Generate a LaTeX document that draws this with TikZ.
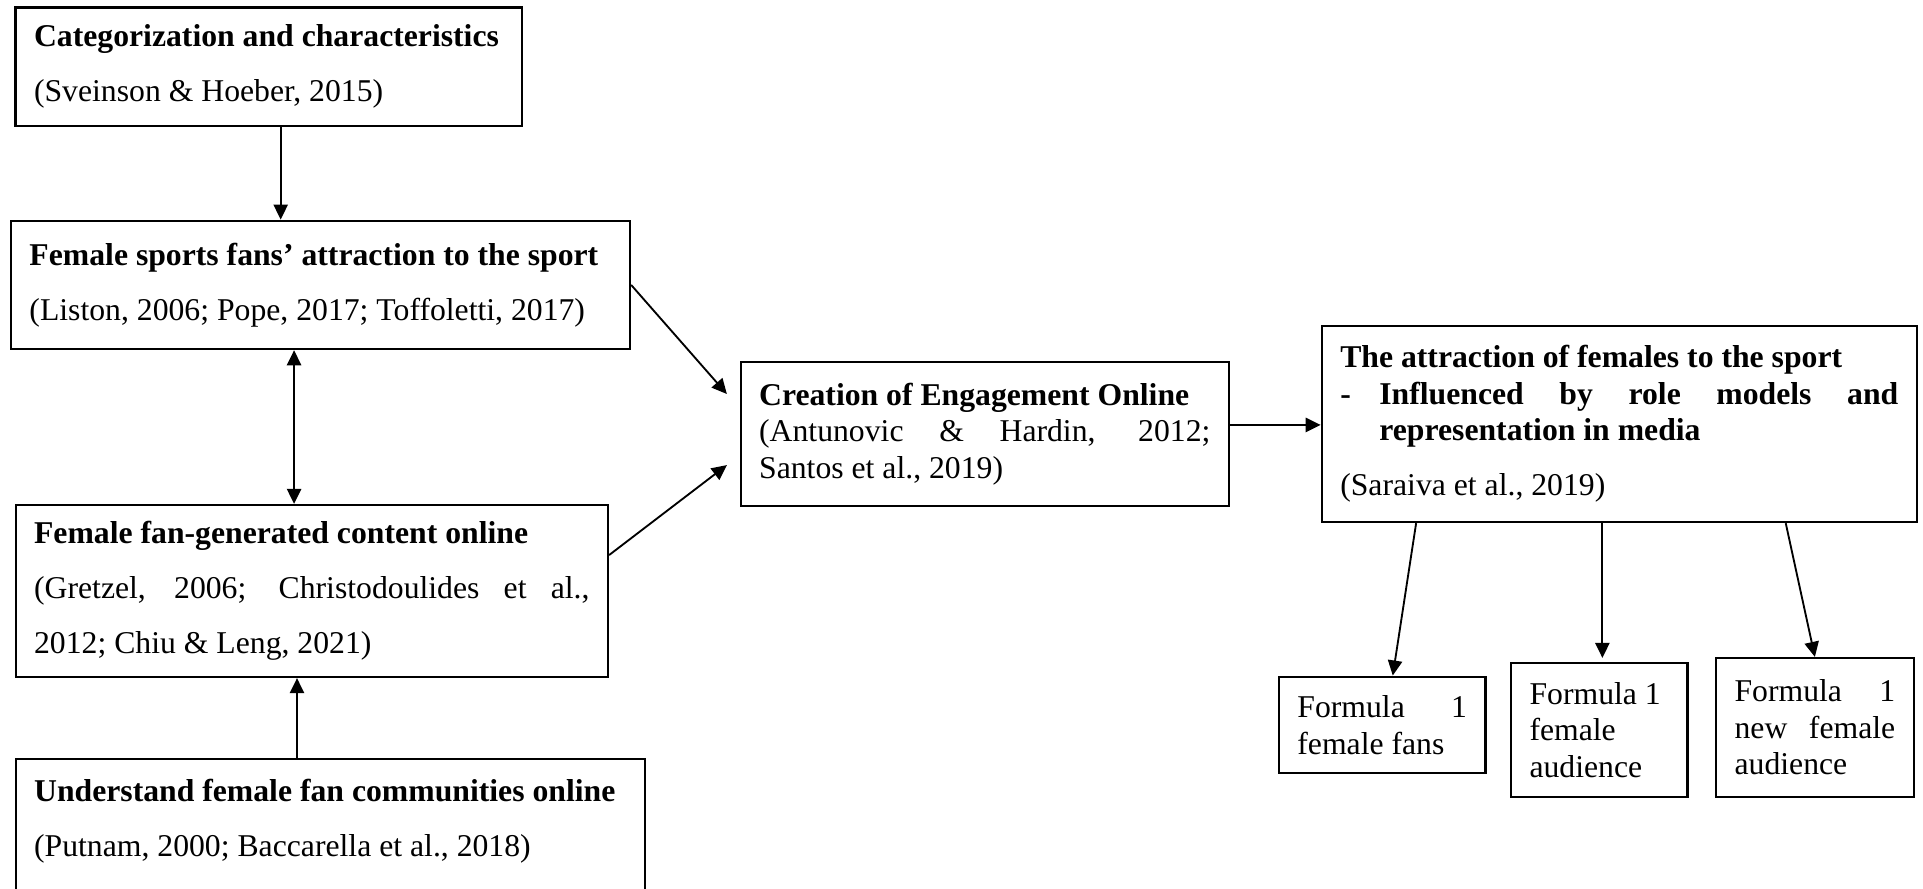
\documentclass[tikz,border=0pt]{standalone}
\usepackage{fontspec}
\setmainfont{Liberation Serif}
\usetikzlibrary{arrows.meta}
% justified line of a given width
\newcommand{\spreadline}[2]{{\spaceskip=0pt\xspaceskip=0pt\makebox[#1][s]{#2}}}
\begin{document}
\begin{tikzpicture}
	[x=0.3785pt,y=-0.3785pt,
	box/.style={draw,line width=0.85pt,align=flush left,inner xsep=7pt,inner ysep=0pt,
		font=\fontsize{12pt}{13.8pt}\selectfont},
	>={Triangle[length=5.7pt,width=5.4pt]}]
    \useasboundingbox (0,0) rectangle (1923,888);
    % left column
    \node[box,minimum width=191.7pt,minimum height=44.9pt,text width=177.7pt] (cat) at (268.8,66.7)
      {\mbox{\textbf{Categorization and characteristics}}\\[7pt](Sveinson \& Hoeber, 2015)};
    \node[box,minimum width=234.3pt,minimum height=48.6pt,text width=220.3pt] (fans) at (320.5,284.9)
      {\mbox{\textbf{Female sports fans’ attraction to the sport}}\\[7pt](Liston, 2006; Pope, 2017; Toffoletti, 2017)};
    \node[box,minimum width=224.2pt,minimum height=65.1pt,text width=210.2pt] (content) at (311.8,591)
      {\textbf{Female fan-generated content online}\\[7pt]\spreadline{210.2pt}{(Gretzel, 2006; Christodoulides et al.,}\\[7pt]2012; Chiu \& Leng, 2021)};
    \node[box,minimum width=238.2pt,minimum height=65.1pt,text width=224.2pt] (comm) at (330.3,845)
      {\mbox{\textbf{Understand female fan communities online}}\\[7pt](Putnam, 2000; Baccarella et al., 2018)\\[7pt]\mbox{}};
    % middle and right
    \node[box,minimum width=184.8pt,minimum height=54.4pt,text width=170.8pt] (engage) at (984.8,433.9)
      {\textbf{Creation of Engagement Online}\\\spreadline{170.8pt}{(Antunovic \& Hardin, 2012;}\\Santos et al., 2019)};
    \node[box,minimum width=225.2pt,minimum height=74.3pt,text width=211.2pt] (attract) at (1619.3,423.9)
      {\textbf{The attraction of females to the sport}\\
       \makebox[14.8pt][l]{\textbf{-}}\spreadline{196.4pt}{\textbf{Influenced by role models and}}\\
       \hspace*{14.8pt}\textbf{representation in media}\\[7pt](Saraiva et al., 2019)};
    \node[box,minimum width=78.2pt,minimum height=36.6pt,text width=64.2pt] (fanbase) at (1382.2,725)
      {\spreadline{64.2pt}{Formula 1}\\female fans};
    \node[box,minimum width=66.8pt,minimum height=50.7pt,text width=52.8pt] (audience) at (1599.3,729.7)
      {Formula 1\\female\\audience};
    \node[box,minimum width=74.8pt,minimum height=52.5pt,text width=60.8pt] (newaud) at (1814.9,727.4)
      {\spreadline{60.8pt}{Formula 1}\\\spreadline{60.8pt}{new female}\\audience};
    % connectors
    \draw [line width=0.7pt,->] ([xshift=4.5pt]cat.south) -- ([xshift=4.5pt]cat.south |- fans.north);
    \draw [line width=0.7pt,<->] ([xshift=-10pt]fans.south) -- ([xshift=-10pt]fans.south |- content.north);
    \draw [line width=0.7pt,->] ([xshift=-12.6pt]comm.north) -- ([xshift=-12.6pt]comm.north |- content.south);
    \draw [line width=0.7pt,->] (fans.east) -- ([xshift=-4.8pt,yshift=15.1pt]engage.west);
    \draw [line width=0.7pt,->] ([yshift=13.6pt]content.east) -- ([xshift=-4.8pt,yshift=-11.8pt]engage.west);
    \draw [line width=0.7pt,->] ([yshift=3.4pt]engage.east) -- ([yshift=3.4pt]engage.east -| attract.west);
    \draw [line width=0.7pt,->] ([xshift=-76.9pt]attract.south) -- ([xshift=4pt]fanbase.north);
    \draw [line width=0.7pt,->] ([xshift=-6.4pt]attract.south) -- ([xshift=-6.4pt,yshift=1.4pt]attract.south |- audience.north);
    \draw [line width=0.7pt,->] ([xshift=63pt]attract.south) -- (newaud.north);
\end{tikzpicture}
\end{document}
